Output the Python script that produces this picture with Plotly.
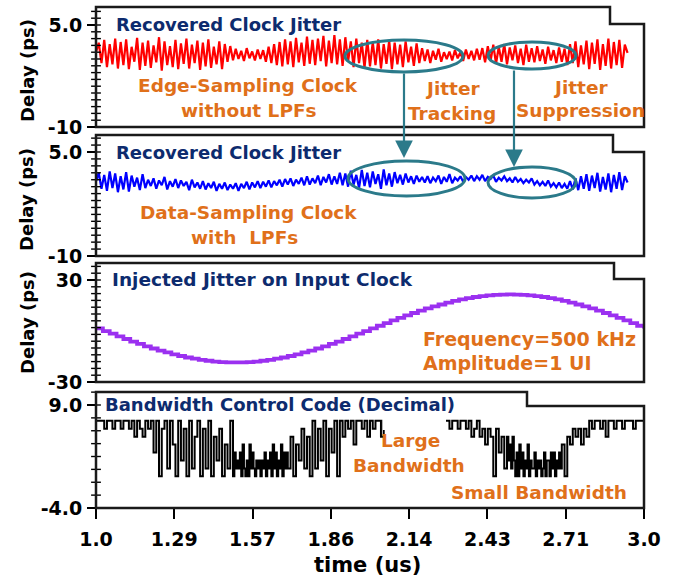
import numpy as np
import plotly.graph_objects as go

# ---------------- data ----------------
t_start = 1.0
jit_step = 0.01  # us between jitter samples

red_jitter = [
    1.0, 2.4, -0.6, 2.8, -1.2, 2.2, -0.8, 3.0, -1.4, 2.5,
    -0.9, 2.9, -1.5, 1.8, -0.4, 3.1, -1.6, 2.4, -1.0, 2.7,
    -1.3, 2.0, -0.5, 3.2, -1.7, 2.6, -0.9, 1.9, -1.2, 2.8,
    -1.5, 2.3, -0.7, 3.0, -1.4, 2.1, -0.6, 2.7, -1.6, 2.4,
    -1.1, 2.9, -1.3, 1.8, -0.8, 2.6, -1.5, 2.2, -0.4, 1.9,
    -0.2, 1.5, 0.0, 1.2, -0.3, 1.6, 0.1, 1.1, -0.2, 1.4,
    0.0, 1.3, -0.4, 1.8, -0.6, 2.2, -0.9, 2.5, -1.1, 2.9,
    -0.8, 2.6, -1.2, 3.1, -0.5, 2.4, -1.0, 3.3, -0.7, 2.8,
    -0.9, 3.0, -0.3, 3.4, -1.1, 2.7, -0.6, 3.5, -0.8, 2.9,
    -1.0, 3.2, -0.4, 2.6, -1.2, 3.0, -0.6, 2.4, -1.3, 2.8,
    -1.1, 2.5, -0.9, 2.9, -1.4, 2.2, -0.7, 2.7, -1.5, 2.4,
    -0.8, 2.1, -1.2, 2.6, -0.5, 1.8, -1.0, 2.3, -0.6, 1.6,
    -0.3, 1.4, -0.6, 1.2, -0.1, 1.5, -0.4, 1.0, 0.0, 1.1,
    -0.2, 1.3, 0.1, 1.0, -0.3, 1.4, 0.0, 1.2, -0.2, 1.5,
    -0.1, 1.6, -0.5, 1.9, -0.3, 2.1, -0.7, 1.8, -0.4, 2.2,
    -0.8, 1.7, -0.2, 2.0, -0.6, 1.5, -0.9, 2.1, -0.4, 1.6,
    -0.5, 1.9, -0.3, 1.4, -0.7, 1.8, -0.2, 1.3, -0.6, 1.7,
    -0.4, 1.5, -0.9, 2.2, -0.6, 2.6, -1.2, 2.0, -0.8, 2.7,
    -1.5, 2.4, -0.7, 2.9, -1.6, 2.2, -1.0, 3.0, -1.4, 2.5,
    -0.9, 2.8, -1.3, 2.1, 0.9,
]

blue_jitter = [
    0.8, 2.0, -0.3, 1.7, -0.6, 2.2, -0.2, 1.9, -0.8, 1.5,
    -0.4, 2.1, -0.7, 1.6, 0.0, 1.3, -0.5, 1.8, -0.2, 1.0,
    0.1, 1.2, -0.3, 0.9, 0.2, 1.4, -0.4, 0.8, 0.0, 1.1,
    -0.2, 0.9, 0.1, 0.7, -0.5, 1.0, -0.1, 0.6, -0.3, 0.8,
    -0.4, 0.5, -0.2, 0.7, -0.6, 0.4, -0.3, 0.6, -0.5, 0.3,
    -0.3, 0.5, -0.6, 0.4, -0.2, 0.7, -0.4, 0.6, -0.1, 0.8,
    -0.2, 0.7, 0.0, 0.9, -0.1, 0.8, 0.2, 1.0, 0.0, 1.1,
    0.3, 1.2, 0.1, 1.0, 0.4, 1.3, 0.2, 1.5, 0.3, 1.2,
    0.5, 1.6, 0.2, 1.4, 0.6, 1.8, 0.3, 1.5, 0.4, 2.0,
    0.2, 1.9, 0.0, 2.3, 0.3, 1.7, -0.2, 2.4, 0.1, 2.0,
    -0.1, 2.2, 0.4, 1.8, -0.3, 2.5, 0.2, 1.9, 0.0, 2.1,
    0.5, 1.7, 0.3, 1.9, 0.6, 1.5, 0.4, 1.6, 0.7, 1.4,
    0.6, 1.5, 0.5, 1.3, 0.8, 1.6, 0.4, 1.4, 0.7, 1.8,
    0.5, 1.3, 0.9, 1.5, 0.7, 1.4, 1.0, 1.6, 0.8, 1.5,
    1.0, 1.7, 0.8, 1.4, 1.1, 1.6, 0.7, 1.3, 0.9, 1.5,
    0.8, 1.2, 0.6, 1.4, 0.7, 1.1, 0.5, 1.0, 0.6, 1.2,
    0.3, 0.8, 0.2, 0.7, 0.1, 0.9, 0.0, 0.5, -0.1, 0.6,
    -0.2, 0.4, -0.3, 0.8, -0.4, 1.2, -0.5, 1.5, -0.3, 1.8,
    -0.6, 1.6, -0.2, 2.0, -0.7, 1.4, -0.4, 1.9, -0.8, 1.7,
    -0.3, 2.1, -0.5, 1.5, 0.6,
]

inj_step = 0.025  # us
injected_jitter = [
    1.5, -0.1, -1.6, -3.2, -4.7, -6.2, -7.6, -9.0, -10.3, -11.5,
    -12.6, -13.7, -14.7, -15.6, -16.3, -17.0, -17.5, -18.0, -18.3, -18.4,
    -18.5, -18.4, -18.3, -18.0, -17.5, -17.0, -16.3, -15.6, -14.7, -13.7,
    -12.6, -11.5, -10.3, -9.0, -7.6, -6.2, -4.7, -3.2, -1.6, -0.1,
    1.5, 3.1, 4.6, 6.2, 7.7, 9.2, 10.6, 12.0, 13.3, 14.5,
    15.6, 16.7, 17.7, 18.6, 19.3, 20.0, 20.5, 21.0, 21.3, 21.4,
    21.5, 21.4, 21.3, 21.0, 20.5, 20.0, 19.3, 18.6, 17.7, 16.7,
    15.6, 14.5, 13.3, 12.0, 10.6, 9.2, 7.7, 6.2, 4.6, 3.1,
    1.5,
]

bw_step = 0.005  # us
bw_code_digits = (
    "77777766777766777766"  # 1.0
    "77776677557766557766"  # 1.1
    "77337700667711774400"  # 1.2
    "77226600771155770066"  # 1.3
    "11770055226600441177"  # 1.4
    "03121304102041310212"  # 1.5
    "02130213041302140313"  # 1.6
    "11550044226611550077"  # 1.7
    "11662277006633770077"  # 1.8
    "55776677447777667755"  # 1.9
    "77667777557777667777"  # 2.0
    "77777777777777777777"  # 2.1
    "77777777777766777766"  # 2.2
    "77776677776677556677"  # 2.3
    "55664466550066335511"  # 2.4
    "52415203041302140211"  # 2.5
    "30212013022031302131"  # 2.6
    "44005544665566446655"  # 2.7
    "77667777667755777766"  # 2.8
    "77776677777766777777"  # 2.9
    "7"
)
bw_codes = [int(c) for c in bw_code_digits]

x_tickvals = [1.0, 1.2857, 1.5714, 1.8571, 2.1429, 2.4286, 2.7143, 3.0]
x_ticktext = ["1.0", "1.29", "1.57", "1.86", "2.14", "2.43", "2.71", "3.0"]

# ---------------- layout geometry (pixels) ----------------
W, H = 678, 579
L, R, T, B = 96, 644, 7, 508
X0, X1 = 1.0, 3.0


def xp(px):
    return (px - L) / (R - L)


def yp(py):
    return (B - py) / (B - T)


panels = [
    dict(top=7, nx=610, ny=24, bot=127, hi=(5.0, 25), lo=(-10, 127),
         tv=[-10, 5.0], tt=["-10", "5.0"], minor=(-10, 1.0)),
    dict(top=135, nx=613, ny=152, bot=256, hi=(5.0, 152), lo=(-10, 256),
         tv=[-10, 5.0], tt=["-10", "5.0"], minor=(-10, 1.0)),
    dict(top=263, nx=614, ny=279, bot=382, hi=(30, 280), lo=(-30, 382),
         tv=[-30, 30], tt=["-30", "30"], minor=(-30, 4.0)),
    dict(top=392, nx=527, ny=406, bot=508, hi=(9.0, 405), lo=(-4.0, 508),
         tv=[-4.0, 9.0], tt=["-4.0", "9.0"], minor=(-4.0, 1.625)),
]

fig = go.Figure()

t_red = t_start + jit_step * np.arange(len(red_jitter))
t_blue = t_start + jit_step * np.arange(len(blue_jitter))
t_inj = t_start + inj_step * np.arange(len(injected_jitter))
t_bw = t_start + bw_step * np.arange(len(bw_codes))

fig.add_trace(go.Scatter(x=t_red, y=red_jitter, mode="lines", yaxis="y",
                         line=dict(color="#ff0000", width=2.2)))
fig.add_trace(go.Scatter(x=t_blue, y=blue_jitter, mode="lines", yaxis="y2",
                         line=dict(color="#0000ff", width=2.2)))
fig.add_trace(go.Scatter(x=t_inj, y=injected_jitter, mode="lines", yaxis="y3",
                         line=dict(color="#9b30f0", width=3.8, shape="hv")))
fig.add_trace(go.Scatter(x=t_bw, y=bw_codes, mode="lines", yaxis="y4",
                         line=dict(color="#000000", width=2.0, shape="hv")))

tick_font = dict(family="DejaVu Sans", size=19, color="black", weight="bold")

layout = dict(
    width=W, height=H,
    margin=dict(l=L, r=W - R, t=T, b=H - B),
    paper_bgcolor="white", plot_bgcolor="white",
    showlegend=False,
    xaxis=dict(range=[X0, X1], domain=[0, 1], anchor="y4",
               showgrid=False, zeroline=False, showline=False,
               tickmode="array", tickvals=x_tickvals, ticktext=x_ticktext,
               ticks="outside", ticklen=10, tickwidth=2, tickcolor="black",
               tickfont=tick_font, ticklabelstandoff=4),
)

shapes = []

for i, p in enumerate(panels):
    name = "yaxis" if i == 0 else f"yaxis{i + 1}"
    ytr = "y" if i == 0 else f"y{i + 1}"
    (vh, ph), (vl, pl) = p["hi"], p["lo"]
    scale = (pl - ph) / (vh - vl)
    rng = [vl - (p["bot"] - pl) / scale, vh + (ph - p["top"]) / scale]
    layout[name] = dict(
        domain=[yp(p["bot"]), yp(p["top"])], range=rng, anchor="x",
        showgrid=False, zeroline=False, showline=False,
        tickmode="array", tickvals=p["tv"], ticktext=p["tt"],
        ticks="outside", ticklen=8, tickwidth=2, tickcolor="black",
        tickfont=tick_font, ticklabelstandoff=1,
    )
    # minor ticks on the delay axis: short dashes straddling the left edge
    m0, md = p["minor"]
    nmin = int(np.floor((rng[1] - m0) / md + 1e-9)) + 1
    minor_vals = [m0 + k * md for k in range(nmin)]
    fig.add_trace(go.Scatter(
        x=[X0] * len(minor_vals), y=minor_vals, yaxis=ytr, mode="markers",
        cliponaxis=False, hoverinfo="skip",
        marker=dict(symbol="line-ew", size=7, color="black",
                    line=dict(width=1.4, color="black"))))
    if i == 3:
        # minor ticks on the time axis, just below the bottom edge
        xm = [X0 + k * (X1 - X0) / 35 for k in range(36)]
        fig.add_trace(go.Scatter(
            x=xm, y=[rng[0] - 3.0 / scale] * len(xm), yaxis=ytr, mode="markers",
            cliponaxis=False, hoverinfo="skip",
            marker=dict(symbol="line-ns", size=6, color="black",
                        line=dict(width=1.6, color="black"))))
    path = (f"M {xp(L)},{yp(p['bot'])} L {xp(L)},{yp(p['top'])} "
            f"L {xp(p['nx'])},{yp(p['top'])} L {xp(p['nx'])},{yp(p['ny'])} "
            f"L {xp(R)},{yp(p['ny'])} L {xp(R)},{yp(p['bot'])} Z")
    shapes.append(dict(type="path", path=path, xref="paper", yref="paper",
                       line=dict(color="#1a1a1a", width=2.5), layer="above"))

# white patch hiding the code trace behind the "Large Bandwidth" label
shapes.append(dict(type="rect", xref="paper", yref="paper",
                   x0=xp(383), x1=xp(446), y0=yp(430), y1=yp(414),
                   fillcolor="white", line=dict(width=0), layer="above"))

teal = "#2b7a8a"
for (x0, x1, y0, y1) in [(345, 463, 40, 72), (488, 576, 42, 69),
                          (348, 465, 161, 196), (488, 576, 167, 198)]:
    shapes.append(dict(type="circle", xref="paper", yref="paper",
                       x0=xp(x0), x1=xp(x1), y0=yp(y1), y1=yp(y0),
                       line=dict(color=teal, width=3), layer="above"))

layout["shapes"] = shapes

navy = "#0d2b6e"
orange = "#e0701a"
annotations = []


def ann(text, x, y, color, size, xanchor="center", angle=0):
    annotations.append(dict(text=text, x=xp(x), y=yp(y), xref="paper", yref="paper",
                            xanchor=xanchor, yanchor="middle", showarrow=False,
                            textangle=angle,
                            font=dict(family="DejaVu Sans", size=size, color=color,
                                      weight="bold")))


ann("Recovered Clock Jitter", 114, 25, navy, 18, "left")
ann("Recovered Clock Jitter", 114, 152, navy, 18, "left")
ann("Injected Jitter on Input Clock", 110, 279, navy, 18.5, "left")
ann("Bandwidth Control Code (Decimal)", 103, 404, navy, 18, "left")

ann("Edge-Sampling Clock", 248, 85, orange, 18.5)
ann("without LPFs", 249, 110, orange, 18.5)
ann("Jitter", 452, 88, orange, 18.5)
ann("Tracking", 452, 113, orange, 18.5)
ann("Jitter", 580, 87, orange, 18.5)
ann("Suppression", 580, 110, orange, 18.5)
ann("Data-Sampling Clock", 248, 212, orange, 18.5)
ann("with  LPFs", 244, 237, orange, 18.5)
ann("Frequency=500 kHz", 421, 339, orange, 19, "left")
ann("Amplitude=1 UI", 421, 363, orange, 19, "left")
ann("Large", 410, 440, orange, 18.5)
ann("Bandwidth", 409, 465, orange, 18.5)
ann("Small Bandwidth", 539, 492, orange, 18.5)

ann("Delay (ps)", 27, 71, "black", 18, angle=-90)
ann("Delay (ps)", 27, 200, "black", 18, angle=-90)
ann("Delay (ps)", 27, 323, "black", 18, angle=-90)
ann("time (us)", 367, 565, "black", 21)

# arrows linking the two panels
for (x, y_tail, y_tip) in [(404, 72, 158), (514, 69, 167)]:
    annotations.append(dict(text="", x=xp(x), y=yp(y_tip), xref="paper", yref="paper",
                            ax=0, ay=-(y_tip - y_tail), axref="pixel", ayref="pixel",
                            showarrow=True, arrowhead=2, arrowsize=1.6,
                            arrowwidth=2.2, arrowcolor=teal, standoff=0))

layout["annotations"] = annotations
fig.update_layout(**layout)

fig.write_html("out.html")
